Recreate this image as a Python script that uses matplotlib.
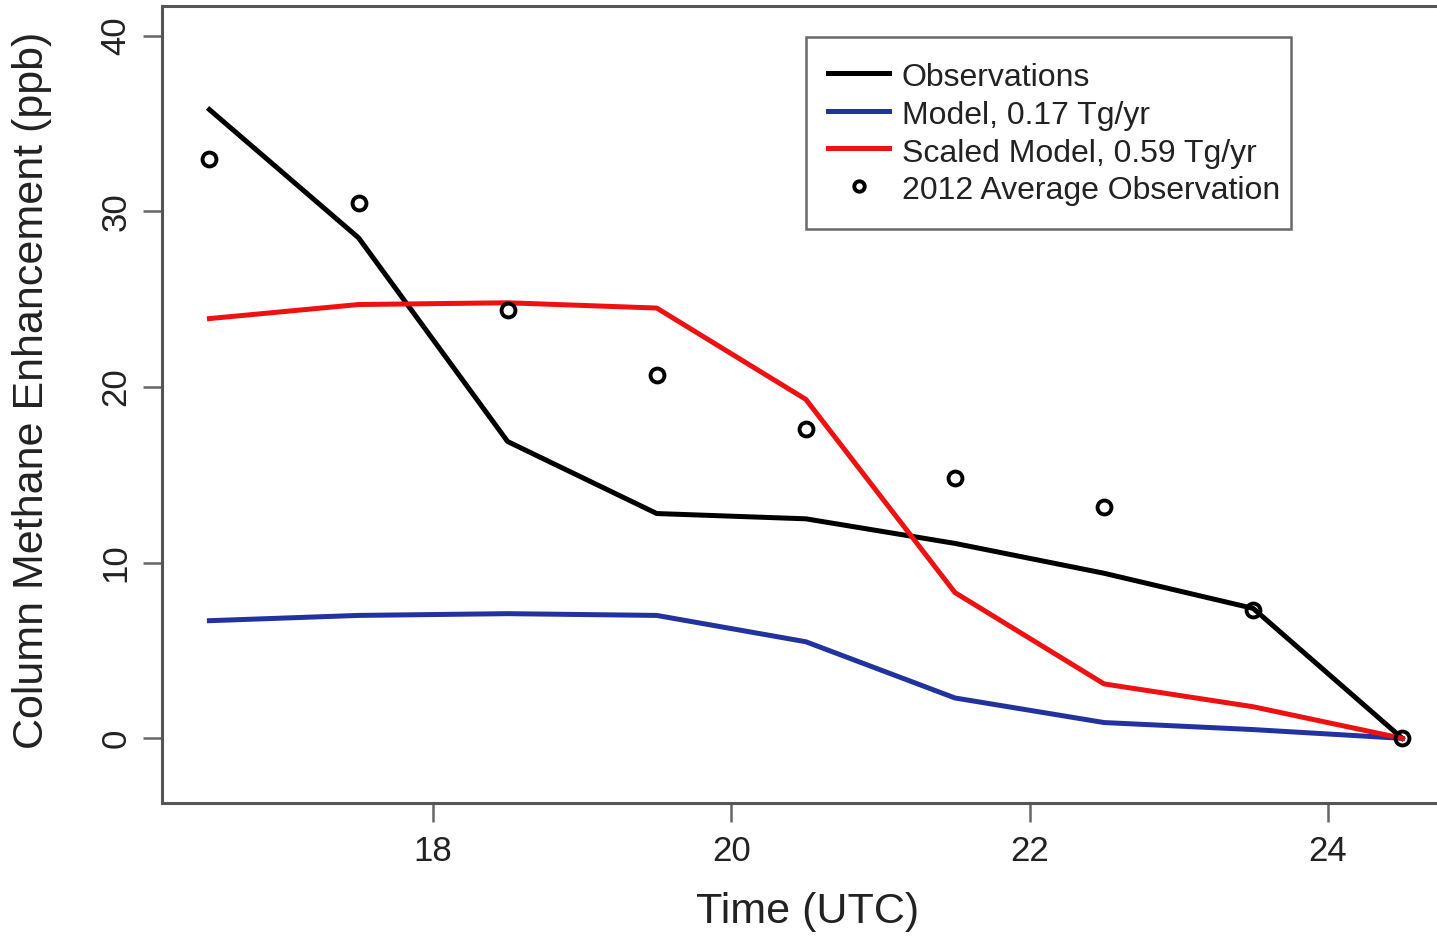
import matplotlib
matplotlib.use("Agg")
import matplotlib.pyplot as plt

plt.rcParams['font.family'] = ['Liberation Sans', 'DejaVu Sans']

# hours (UTC)
hours = [16.5, 17.5, 18.5, 19.5, 20.5, 21.5, 22.5, 23.5, 24.5]

# column methane enhancement (ppb)
observations = [35.8, 28.5, 16.9, 12.8, 12.5, 11.1, 9.4, 7.4, 0.0]
model = [6.7, 7.0, 7.1, 7.0, 5.5, 2.3, 0.9, 0.5, 0.0]
scaled_model = [23.9, 24.7, 24.8, 24.5, 19.3, 8.3, 3.1, 1.8, 0.0]
avg_2012 = [33.0, 30.5, 24.4, 20.7, 17.6, 14.8, 13.2, 7.3, 0.0]

labels = ['Observations', 'Model, 0.17 Tg/yr', 'Scaled Model, 0.59 Tg/yr',
          '2012 Average Observation']
x_ticks = [18, 20, 22, 24]
y_ticks = [0, 10, 20, 30, 40]

W, H = 1437, 938
fig = plt.figure(figsize=(W / 100, H / 100), dpi=100)
# axes box in pixels: left 162, right ~1450 (cropped), top 6, bottom 803
ax = fig.add_axes([161.7 / W, (H - 803) / H, (1450 - 161.7) / W, (803 - 6.3) / H])

lw = 3.6
ax.plot(hours, observations, color='black', lw=lw, label=labels[0])
ax.plot(hours, model, color='#2233a0', lw=lw, label=labels[1])
ax.plot(hours, scaled_model, color='#ee1111', lw=lw, label=labels[2])
ax.plot(hours, avg_2012, linestyle='none', marker='o', ms=10, mew=2.8,
        mfc='none', mec='black', label=labels[3])

ax.set_xlim(16.18, 24.82)
ax.set_ylim(-3.68, 41.68)
ax.set_xticks(x_ticks)
ax.set_yticks(y_ticks)

for s in ax.spines.values():
    s.set_color('#555555')
    s.set_linewidth(2.2)

ax.tick_params(axis='both', length=14, width=1.8, color='#666666',
               labelsize=25, labelcolor='#222222')
ax.tick_params(axis='x', pad=9)
ax.tick_params(axis='y', pad=7)
for t in ax.get_yticklabels():
    t.set_rotation(90)
    t.set_va('center')

ax.set_xlabel('Time (UTC)', fontsize=31, color='#222222')
ax.set_ylabel('Column Methane Enhancement (ppb)', fontsize=31, color='#222222')
ax.xaxis.set_label_coords(0.5017, -0.1368)
ax.xaxis.label.set_va('center')
ax.yaxis.set_label_coords(-0.1007, 0.518)
ax.yaxis.label.set_va('center')

leg = ax.legend(loc='upper left', bbox_to_anchor=(0.5001, 0.7205, 0.3765, 0.241),
                mode='expand', fontsize=23, frameon=True, fancybox=False,
                handlelength=1.9, handleheight=1.2, handletextpad=0.4,
                labelspacing=0.11, borderpad=0.7, borderaxespad=0.0,
                markerscale=0.75)
leg.get_frame().set_edgecolor('#444444')
leg.get_frame().set_linewidth(1.8)
for t in leg.get_texts():
    t.set_color('#222222')

fig.savefig('out.png', dpi=100, facecolor='white')
